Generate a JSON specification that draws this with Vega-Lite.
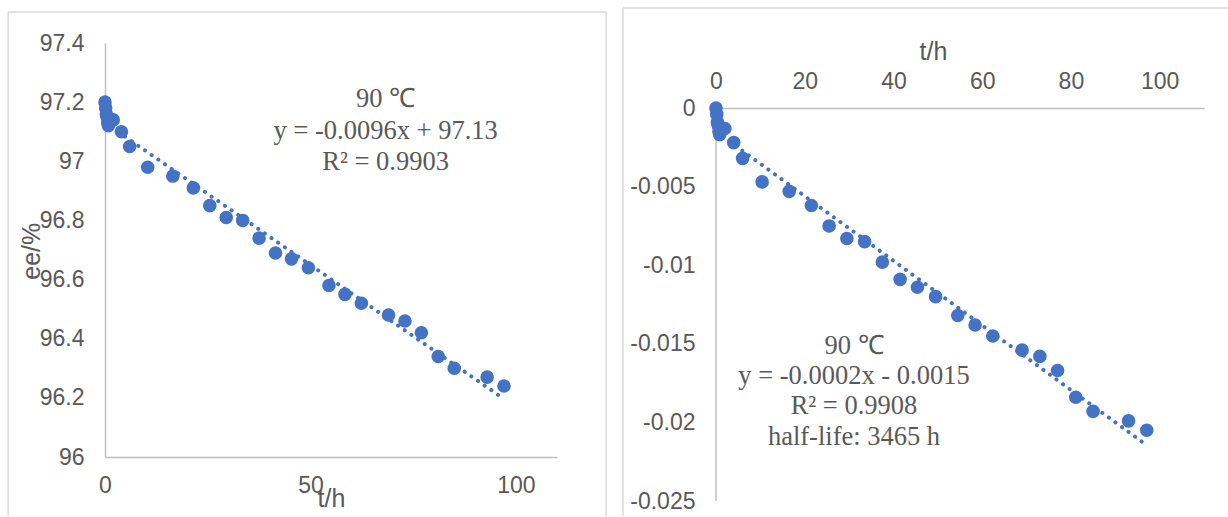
{
  "$schema": "https://vega.github.io/schema/vega-lite/v6.json",
  "background": "white",
  "padding": {"left": 7, "top": 7, "right": 0, "bottom": 0},
  "spacing": 15,
  "config": {
    "view": {"stroke": null},
    "axis": {
      "grid": false,
      "ticks": false,
      "labelFont": "Liberation Sans",
      "labelFontSize": 23,
      "labelColor": "#595959",
      "titleFont": "Liberation Sans",
      "titleFontSize": 25,
      "titleFontWeight": "normal",
      "titleColor": "#595959",
      "domainColor": "#BFBFBF",
      "domainWidth": 1.5,
      "labelFlush": false,
      "labelOverlap": false,
      "labelExpr": "'' + datum.value"
    }
  },
  "datasets": {
    "ee": [
      {"t": 0, "ee": 97.2},
      {"t": 0.17, "ee": 97.18},
      {"t": 0.33, "ee": 97.16},
      {"t": 0.5, "ee": 97.15},
      {"t": 0.67, "ee": 97.13},
      {"t": 0.83, "ee": 97.12},
      {"t": 2, "ee": 97.14},
      {"t": 4, "ee": 97.1},
      {"t": 6, "ee": 97.05},
      {"t": 10.4, "ee": 96.98},
      {"t": 16.5, "ee": 96.95},
      {"t": 21.5, "ee": 96.91},
      {"t": 25.5, "ee": 96.85},
      {"t": 29.5, "ee": 96.81},
      {"t": 33.5, "ee": 96.8},
      {"t": 37.5, "ee": 96.74},
      {"t": 41.5, "ee": 96.69},
      {"t": 45.4, "ee": 96.67},
      {"t": 49.5, "ee": 96.64},
      {"t": 54.5, "ee": 96.58},
      {"t": 58.4, "ee": 96.55},
      {"t": 62.4, "ee": 96.52},
      {"t": 69, "ee": 96.48},
      {"t": 73, "ee": 96.46},
      {"t": 77, "ee": 96.42},
      {"t": 81.1, "ee": 96.34},
      {"t": 85, "ee": 96.3},
      {"t": 93, "ee": 96.27},
      {"t": 97.1, "ee": 96.24}
    ],
    "decay": [
      {"t": 0, "k": 0},
      {"t": 0.17, "k": -0.0004},
      {"t": 0.33, "k": -0.0009},
      {"t": 0.5, "k": -0.0011},
      {"t": 0.67, "k": -0.0015},
      {"t": 0.83, "k": -0.0017},
      {"t": 2, "k": -0.0013},
      {"t": 4, "k": -0.0022},
      {"t": 6, "k": -0.0032},
      {"t": 10.4, "k": -0.0047},
      {"t": 16.5, "k": -0.0053},
      {"t": 21.5, "k": -0.0062},
      {"t": 25.5, "k": -0.0075},
      {"t": 29.5, "k": -0.0083},
      {"t": 33.5, "k": -0.0085},
      {"t": 37.5, "k": -0.0098},
      {"t": 41.5, "k": -0.0109},
      {"t": 45.4, "k": -0.0114},
      {"t": 49.5, "k": -0.012},
      {"t": 54.5, "k": -0.0132},
      {"t": 58.4, "k": -0.0138},
      {"t": 62.4, "k": -0.0145},
      {"t": 69, "k": -0.0154},
      {"t": 73, "k": -0.0158},
      {"t": 77, "k": -0.0167},
      {"t": 81.1, "k": -0.0184},
      {"t": 85, "k": -0.0193},
      {"t": 93, "k": -0.0199},
      {"t": 97.1, "k": -0.0205}
    ]
  },
  "hconcat": [
    {
      "width": 452,
      "height": 414,
      "layer": [
        {
          "data": {"values": [{}]},
          "mark": {"type": "rule", "color": "#D9D9D9", "strokeWidth": 1.5},
          "encoding": {
            "x": {"datum": -23.57, "type": "quantitative", "title": "t/h"},
            "y": {"datum": 97.505, "type": "quantitative", "title": "ee/%"},
            "y2": {"datum": 95.8}
          }
        },
        {
          "data": {"values": [{}]},
          "mark": {"type": "rule", "color": "#D9D9D9", "strokeWidth": 1.5},
          "encoding": {
            "x": {"datum": 121.96, "type": "quantitative", "title": "t/h"},
            "y": {"datum": 97.505, "type": "quantitative", "title": "ee/%"},
            "y2": {"datum": 95.8}
          }
        },
        {
          "data": {"values": [{}]},
          "mark": {"type": "rule", "color": "#D9D9D9", "strokeWidth": 1.5},
          "encoding": {
            "x": {"datum": -23.57, "type": "quantitative", "title": "t/h"},
            "x2": {"datum": 121.96},
            "y": {"datum": 97.505, "type": "quantitative", "title": "ee/%"}
          }
        },
        {
          "data": {"name": "ee"},
          "mark": {"type": "circle", "size": 185, "color": "#4472C4", "opacity": 1},
          "encoding": {
            "x": {
              "field": "t", "type": "quantitative", "title": "t/h",
              "scale": {"domain": [0, 110], "nice": false, "zero": false},
              "axis": {"values": [0, 50, 100], "labelPadding": 17, "titleY": 49.7, "titleBaseline": "alphabetic"}
            },
            "y": {
              "field": "ee", "type": "quantitative", "title": "ee/%",
              "scale": {"domain": [96, 97.4], "nice": false, "zero": false},
              "axis": {
                "values": [96, 96.2, 96.4, 96.6, 96.8, 97, 97.2, 97.4],
                "labelPadding": 21,
                "titleX": -66, "titleY": 207.7, "titleAngle": 270,
                "titleAlign": "center", "titleBaseline": "alphabetic"
              }
            }
          }
        },
        {
          "data": {"name": "ee"},
          "transform": [{"regression": "ee", "on": "t"}],
          "mark": {"type": "line", "color": "#4472C4", "strokeWidth": 4, "strokeDash": [0.1, 8], "strokeCap": "round"},
          "encoding": {
            "x": {"field": "t", "type": "quantitative", "title": "t/h"},
            "y": {"field": "ee", "type": "quantitative", "title": "ee/%"}
          }
        },
        {
          "data": {"values": [{}]},
          "mark": {
            "type": "text",
            "text": ["90 ℃", "y = -0.0096x + 97.13", "R² = 0.9903"],
            "font": "Liberation Serif",
            "fontSize": 26.5,
            "lineHeight": 31.6,
            "color": "#595959",
            "align": "center",
            "baseline": "middle"
          },
          "encoding": {
            "x": {"datum": 68.3, "type": "quantitative", "title": "t/h"},
            "y": {"datum": 97.2106, "type": "quantitative", "title": "ee/%"}
          }
        }
      ]
    },
    {
      "width": 488,
      "height": 458,
      "layer": [
        {
          "data": {"values": [{}]},
          "mark": {"type": "rule", "color": "#D9D9D9", "strokeWidth": 1.5},
          "encoding": {
            "x": {"datum": -20.96, "type": "quantitative", "title": "t/h"},
            "y": {"datum": 0.006366, "type": "quantitative", "title": null},
            "y2": {"datum": -0.02597}
          }
        },
        {
          "data": {"values": [{}]},
          "mark": {"type": "rule", "color": "#D9D9D9", "strokeWidth": 1.5},
          "encoding": {
            "x": {"datum": -20.96, "type": "quantitative", "title": "t/h"},
            "x2": {"datum": 115.37},
            "y": {"datum": 0.006366, "type": "quantitative", "title": null}
          }
        },
        {
          "data": {"values": [{}]},
          "mark": {"type": "rule", "color": "#BFBFBF", "strokeWidth": 1.5},
          "encoding": {
            "x": {"datum": 0, "type": "quantitative", "title": "t/h"},
            "y": {"datum": 0, "type": "quantitative", "title": null},
            "y2": {"datum": -0.025}
          }
        },
        {
          "data": {"name": "decay"},
          "mark": {"type": "circle", "size": 185, "color": "#4472C4", "opacity": 1},
          "encoding": {
            "x": {
              "field": "t", "type": "quantitative", "title": "t/h",
              "scale": {"domain": [0, 110], "nice": false, "zero": false},
              "axis": {
                "orient": "top", "offset": -65,
                "values": [0, 20, 40, 60, 80, 100],
                "labelPadding": 15,
                "titleX": 217, "titleY": -48.7, "titleBaseline": "alphabetic"
              }
            },
            "y": {
              "field": "k", "type": "quantitative", "title": null,
              "scale": {"domain": [-0.025, 0.004138], "nice": false, "zero": false},
              "axis": {
                "values": [0, -0.005, -0.01, -0.015, -0.02, -0.025],
                "domain": false,
                "labelPadding": 21
              }
            }
          }
        },
        {
          "data": {"name": "decay"},
          "transform": [{"regression": "k", "on": "t"}],
          "mark": {"type": "line", "color": "#4472C4", "strokeWidth": 4, "strokeDash": [0.1, 8], "strokeCap": "round"},
          "encoding": {
            "x": {"field": "t", "type": "quantitative", "title": "t/h"},
            "y": {"field": "k", "type": "quantitative", "title": null}
          }
        },
        {
          "data": {"values": [{}]},
          "mark": {
            "type": "text",
            "text": ["90 ℃", "y = -0.0002x - 0.0015", "R² = 0.9908", "half-life: 3465 h"],
            "font": "Liberation Serif",
            "fontSize": 26.5,
            "lineHeight": 30.3,
            "color": "#595959",
            "align": "center",
            "baseline": "middle"
          },
          "encoding": {
            "x": {"datum": 31.1, "type": "quantitative", "title": "t/h"},
            "y": {"datum": -0.01512, "type": "quantitative", "title": null}
          }
        }
      ]
    }
  ]
}
